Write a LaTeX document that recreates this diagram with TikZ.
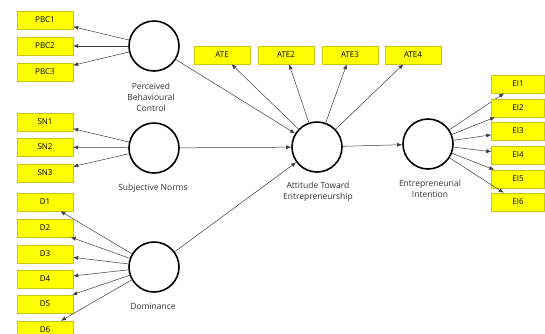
\documentclass[tikz,border=0pt]{standalone}
\usepackage{fontspec}
\setmainfont{Open Sans}
\usetikzlibrary{arrows.meta}

\definecolor{boxyellow}{RGB}{255,255,0}
\definecolor{boxedge}{RGB}{200,200,20}
\definecolor{linegray}{RGB}{60,60,60}

\tikzset{
  indicator/.style={draw=boxedge, fill=boxyellow, minimum width=56pt, minimum height=18pt,
    inner sep=0pt, font=\fontsize{8}{10}\selectfont},
  construct/.style={circle, draw=black, line width=1.6pt, fill=white, minimum size=50pt, inner sep=0pt},
  clabel/.style={align=center, font=\fontsize{8.5}{11}\selectfont, text=black!80},
  loading/.style={-{Latex[length=5pt,width=4pt]}, draw=linegray, line width=0.5pt},
  structpath/.style={-{Latex[length=5pt,width=4pt]}, draw=linegray, line width=0.5pt}
}

\begin{document}
\begin{tikzpicture}[x=1pt, y=-1pt]
    % Canvas
    \useasboundingbox (0,0) rectangle (545,333);

    % Latent constructs
    \node[construct] (pbc) at (154,46) {};
    \node[construct] (sn) at (154,148) {};
    \node[construct] (dom) at (154,267) {};
    \node[construct] (ate) at (317,147) {};
    \node[construct] (ei) at (428,144) {};

    % Construct labels
    \node[clabel] (pbclab) at (151,97) {Perceived\\Behavioural\\Control};
    \node[clabel] (snlab) at (153,188) {Subjective Norms};
    \node[clabel] (domlab) at (153,306) {Dominance};
    \node[clabel] (atelab) at (318,192) {Attitude Toward\\Entrepreneurship};
    \node[clabel] (eilab) at (430,189) {Entrepreneurial\\Intention};

    % Perceived behavioural control indicators
    \foreach \i/\y in {1/20, 2/46, 3/72} {
        \node[indicator] (pbc\i) at (45,\y) {PBC\i};
        \draw[loading] (pbc) -- (pbc\i);
      }

    % Subjective norms indicators
    \foreach \i/\y in {1/122, 2/147, 3/173} {
        \node[indicator] (sn\i) at (45,\y) {SN\i};
        \draw[loading] (sn) -- (sn\i);
      }

    % Dominance indicators
    \foreach \i/\y in {1/202, 2/228, 3/254, 4/279, 5/304, 6/330} {
        \node[indicator] (dom\i) at (45,\y) {D\i};
        \draw[loading] (dom) -- (dom\i);
      }

    % Attitude indicators
    \foreach \i/\x/\t in {1/222/ATE, 2/286/ATE2, 3/350/ATE3, 4/413/ATE4} {
        \node[indicator] (ate\i) at (\x,55) {\t};
        \draw[loading] (ate) -- (ate\i);
      }

    % Intention indicators
    \foreach \i/\y in {1/84, 2/108, 3/131, 4/155, 5/179, 6/202} {
        \node[indicator, minimum width=53pt] (ei\i) at (518,\y) {EI\i};
        \draw[loading] (ei) -- (ei\i);
      }

    % Structural paths
    \draw[structpath] (pbc) -- (ate);
    \draw[structpath] (sn) -- (ate);
    \draw[structpath] (dom) -- (ate);
    \draw[structpath] (ate) -- (ei);
  \end{tikzpicture}
\end{document}
